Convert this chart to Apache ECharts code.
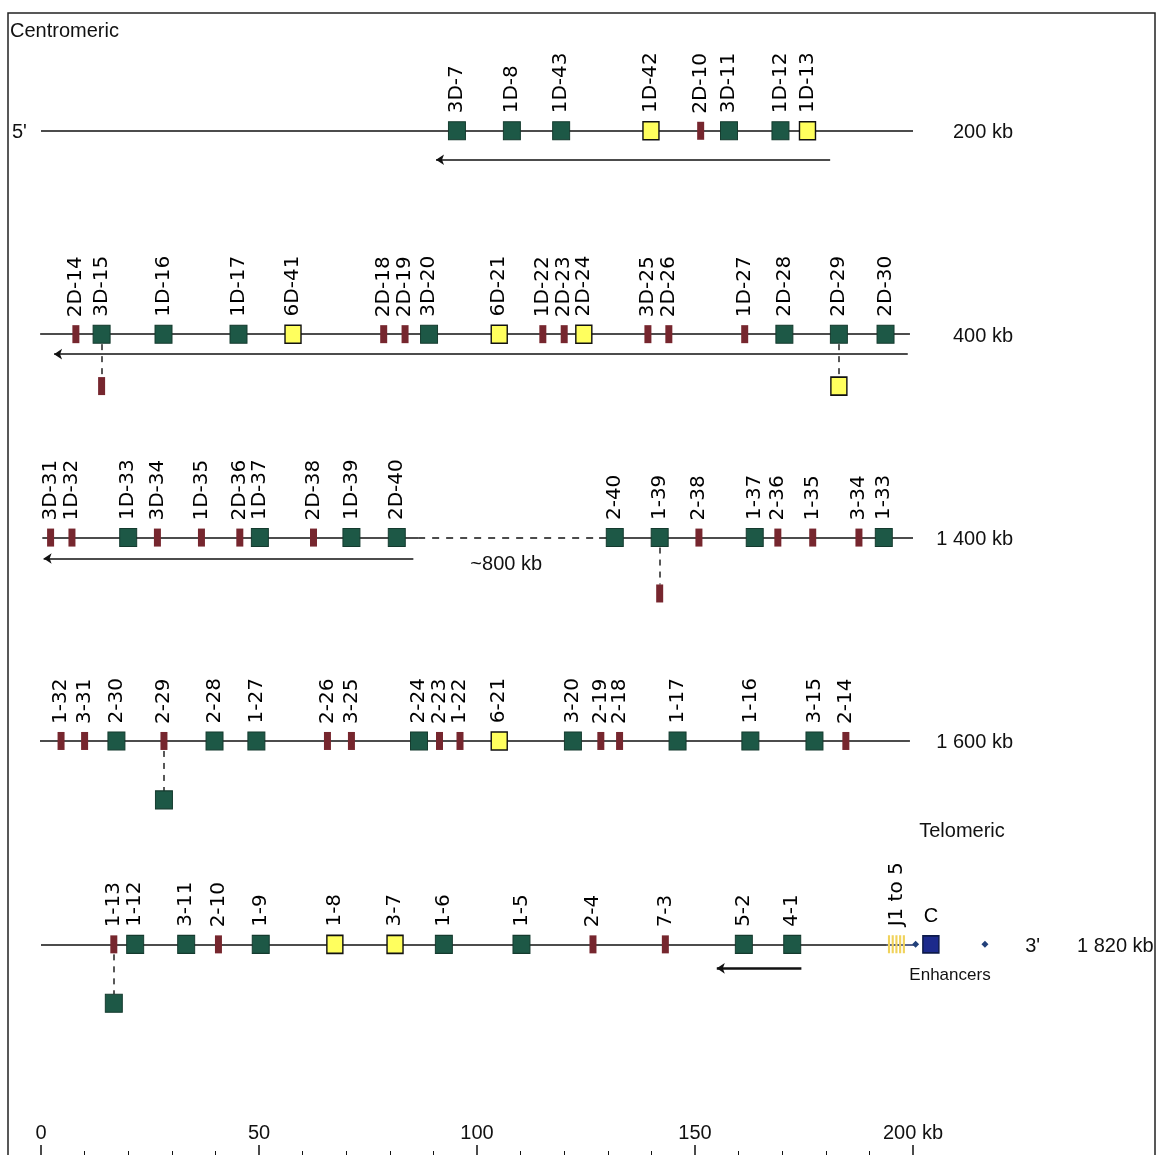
<!DOCTYPE html>
<html><head><meta charset="utf-8">
<script src="https://cdn.jsdelivr.net/npm/echarts@6/dist/echarts.min.js"></script>
<style>html,body{margin:0;padding:0;background:#fff}#c{width:1157px;height:1155px}</style>
</head><body><div id="c"></div>
<script>
// ================= DATA =================
const rowEndLabels = ['200 kb', '400 kb', '1 400 kb', '1 600 kb', '1 820 kb'];
const axisTickValues = [0, 50, 100, 150, 200];

const row0Genes = ['3D-7','1D-8','1D-43','1D-42','2D-10','3D-11','1D-12','1D-13'];
const row0Kb    = [95.4, 108.0, 119.3, 139.9, 151.3, 157.8, 169.6, 175.8];
const row0Kind  = ['G','G','G','Y','R','G','G','Y'];

const row1Genes = ['2D-14','3D-15','1D-16','1D-17','6D-41','2D-18','2D-19','3D-20','6D-21','1D-22','2D-23','2D-24','3D-25','2D-26','1D-27','2D-28','2D-29','2D-30'];
const row1Kb    = [8.0, 13.9, 28.1, 45.3, 57.8, 78.6, 83.5, 89.0, 105.1, 115.1, 120.0, 124.5, 139.2, 144.0, 161.4, 170.5, 183.0, 193.7];
const row1Kind  = ['R','G','G','G','Y','R','R','G','Y','R','R','Y','R','R','R','G','G','G'];

const row2Genes = ['3D-31','1D-32','1D-33','3D-34','1D-35','2D-36','1D-37','2D-38','1D-39','2D-40','2-40','1-39','2-38','1-37','2-36','1-35','3-34','1-33'];
const row2Kb    = [2.2, 7.1, 20.0, 26.7, 36.8, 45.6, 50.2, 62.5, 71.2, 81.6, 131.6, 141.9, 150.9, 163.7, 169.0, 177.0, 187.6, 193.3];
const row2Kind  = ['R','R','G','R','R','R','G','R','G','G','G','G','R','G','R','R','R','G'];

const row3Genes = ['1-32','3-31','2-30','2-29','2-28','1-27','2-26','3-25','2-24','2-23','1-22','6-21','3-20','2-19','2-18','1-17','1-16','3-15','2-14'];
const row3Kb    = [4.6, 10.0, 17.3, 28.2, 39.8, 49.4, 65.7, 71.2, 86.7, 91.4, 96.1, 105.1, 122.0, 128.4, 132.7, 146.0, 162.7, 177.4, 184.6];
const row3Kind  = ['R','R','G','R','G','G','R','R','G','R','R','Y','G','R','R','G','G','G','R'];

const row4Genes = ['1-13','1-12','3-11','2-10','1-9','1-8','3-7','1-6','1-5','2-4','7-3','5-2','4-1'];
const row4Kb    = [16.7, 21.6, 33.3, 40.7, 50.4, 67.4, 81.2, 92.4, 110.2, 126.6, 143.2, 161.2, 172.3];
const row4Kind  = ['R','G','G','R','G','Y','Y','G','G','R','R','G','G'];

// duplicated (off-line) genes, hanging below their partner
const dupRow  = [1, 1, 2, 3, 4];
const dupKb   = [13.9, 183.0, 141.9, 28.2, 16.7];
const dupKind = ['R', 'Y', 'R', 'G', 'G'];

// J/C region (row 4)
const jLabel = 'J1 to 5';
const jKb = 196.2;
const cLabel = 'C';
const cKb = 204.1;
const enhancerKb = [200.6, 216.5];

// backbone segments
const solidSegRow  = [0, 1, 2, 2, 3, 4];
const solidSegFrom = [0, -0.2, 0.3, 128.0, -0.5, 0];
const solidSegTo   = [200, 199.3, 86.5, 200, 199.3, 194.0];
const dashedSegRow  = [2];
const dashedSegFrom = [86.5];
const dashedSegTo   = [128.0];
const blueSegRow  = [4];
const blueSegFrom = [194.0];
const blueSegTo   = [222.3];

// orientation arrows (drawn from -> to, head at "to")
const arrowRow    = [0, 1, 2, 4];
const arrowFromKb = [181.0, 198.8, 85.4, 174.4];
const arrowToKb   = [90.6, 3.0, 0.6, 155.0];

// ================= LAYOUT =================
const ROW_PX = 203.75, ROW0_PX = 131, AXIS_PX = 1157;
const P = 1 / ROW_PX;                       // one pixel in row units
const DUP_DROP_PX = {1: 52, 2: 56, 3: 59, 4: 59};
const ARROW_OFF_PX = {0: 29, 1: 20, 2: 21, 4: 24};
const FONT = 'Liberation Sans';

const rows = [
  {genes: row0Genes, kb: row0Kb, kind: row0Kind},
  {genes: row1Genes, kb: row1Kb, kind: row1Kind},
  {genes: row2Genes, kb: row2Kb, kind: row2Kind},
  {genes: row3Genes, kb: row3Kb, kind: row3Kind},
  {genes: row4Genes, kb: row4Kb, kind: row4Kind}
];

const KIND_STYLE = {
  G: {size: [17, 18], itemStyle: {color: '#1d5846', borderColor: '#143a2e', borderWidth: 1, opacity: 1}},
  Y: {size: [16, 18], itemStyle: {color: '#ffff5e', borderColor: '#111', borderWidth: 1.5, opacity: 1}},
  R: {size: [7, 18],  itemStyle: {color: '#76262e', opacity: 1}}
};

const geneLabel = {
  show: true, formatter: '{b}', position: 'top', distance: 8, rotate: 90,
  align: 'left', verticalAlign: 'middle',
  fontFamily: 'DejaVu Sans', fontSize: 20, color: '#000', opacity: 1
};

function geneSeries(kind) {
  const data = [];
  rows.forEach((row, r) => row.genes.forEach((g, i) => {
    if (row.kind[i] === kind) data.push({name: g, value: [row.kb[i], r]});
  }));
  const s = KIND_STYLE[kind];
  return {type: 'scatter', data, symbol: 'rect', symbolSize: s.size,
    itemStyle: s.itemStyle, label: geneLabel, z: 5, clip: false, silent: true};
}
function dupSeries(kind) {
  const data = [];
  dupRow.forEach((r, i) => {
    if (dupKind[i] === kind) data.push({value: [dupKb[i], r + DUP_DROP_PX[r] * P]});
  });
  const s = KIND_STYLE[kind];
  return {type: 'scatter', data, symbol: 'rect', symbolSize: s.size,
    itemStyle: s.itemStyle, z: 5, clip: false, silent: true};
}
function segs(rowArr, fromArr, toArr) {
  return rowArr.map((r, i) => ({coords: [[fromArr[i], r], [toArr[i], r]]}));
}

const connectorData = dupRow.map((r, i) => ({
  coords: [[dupKb[i], r + 10 * P], [dupKb[i], r + (DUP_DROP_PX[r] - 9) * P]]
}));

const arrowData = arrowRow.map((r, i) => ({
  coords: [[arrowFromKb[i], r + ARROW_OFF_PX[r] * P], [arrowToKb[i], r + ARROW_OFF_PX[r] * P]],
  lineStyle: {width: r === 4 ? 2.5 : 1.5}
}));

const chart = echarts.init(document.getElementById('c'), null, {renderer: 'canvas'});

const option = {
  animation: false,
  backgroundColor: '#fff',
  grid: {left: 41, right: 1157 - 913, top: 0, bottom: 1155 - AXIS_PX},
  xAxis: {
    type: 'value', min: 0, max: 200, interval: 50,
    axisLine: {show: false, onZero: false, lineStyle: {color: '#111', width: 1.5}},
    axisTick: {show: true, inside: true, length: 10, lineStyle: {color: '#111', width: 1.5}},
    minorTick: {show: true, splitNumber: 5, length: 4, lineStyle: {color: '#111', width: 1}},
    splitLine: {show: false},
    axisLabel: {inside: true, margin: 12, fontFamily: FONT, fontSize: 20, color: '#111',
      formatter: v => axisTickValues.indexOf(v) === axisTickValues.length - 1 ? v + ' kb' : String(v)}
  },
  yAxis: {
    type: 'value', inverse: true, show: false,
    min: -ROW0_PX / ROW_PX, max: (AXIS_PX - ROW0_PX) / ROW_PX,
    splitLine: {show: false}
  },
  series: [
    {type: 'lines', coordinateSystem: 'cartesian2d', z: 1, silent: true,
      lineStyle: {color: '#111', width: 1.5, opacity: 1},
      data: segs(solidSegRow, solidSegFrom, solidSegTo)},
    {type: 'lines', coordinateSystem: 'cartesian2d', z: 1, silent: true,
      lineStyle: {color: '#111', width: 1.5, type: [7, 7], opacity: 1},
      data: segs(dashedSegRow, dashedSegFrom, dashedSegTo)},
    {type: 'lines', coordinateSystem: 'cartesian2d', z: 1, silent: true,
      lineStyle: {color: '#1f2f66', width: 1.5, opacity: 1},
      data: segs(blueSegRow, blueSegFrom, blueSegTo)},
    {type: 'lines', coordinateSystem: 'cartesian2d', z: 1, silent: true,
      symbol: ['none', 'arrow'], symbolSize: 8,
      lineStyle: {color: '#111', width: 1.5, opacity: 1},
      data: arrowData},
    {type: 'lines', coordinateSystem: 'cartesian2d', z: 1, silent: true,
      lineStyle: {color: '#222', width: 1.5, type: [6, 6], opacity: 1},
      data: connectorData},
    geneSeries('G'), geneSeries('Y'), geneSeries('R'),
    dupSeries('G'), dupSeries('Y'), dupSeries('R'),
    {type: 'scatter', clip: false, z: 5, silent: true,
      data: [{name: jLabel, value: [jKb, 4]}],
      symbol: 'path://M0,0h2v18h-2z M3.5,0h2v18h-2z M7,0h2v18h-2z M10.5,0h2v18h-2z M14,0h2v18h-2z',
      symbolKeepAspect: false, symbolSize: [17, 18],
      itemStyle: {color: '#f0d25a', opacity: 1},
      label: Object.assign({}, geneLabel, {distance: 9})},
    {type: 'scatter', clip: false, z: 6, silent: true,
      data: enhancerKb.map(k => ({value: [k, 4]})),
      symbol: 'diamond', symbolSize: 7, itemStyle: {color: '#22407a', opacity: 1}},
    {type: 'scatter', clip: false, z: 6, silent: true,
      data: [{name: cLabel, value: [cKb, 4]}],
      symbol: 'rect', symbolSize: [16, 17],
      itemStyle: {color: '#1c2a8c', borderColor: '#0d1a4a', borderWidth: 1.5, opacity: 1},
      label: {show: true, formatter: '{b}', position: 'top', distance: 9,
        fontFamily: FONT, fontSize: 20, color: '#000'}}
  ]
};
chart.setOption(option);

// annotations positioned through the chart's own scales
function px(kb, r) { return chart.convertToPixel({gridIndex: 0}, [kb, r]); }
const txt = (x, y, text, extra) => ({
  type: 'text', x, y, silent: true,
  style: Object.assign({text, fill: '#111', font: '20px "' + FONT + '"', textVerticalAlign: 'middle'}, extra || {})
});
const graphics = [
  {type: 'rect', silent: true, shape: {x: 8, y: 13, width: 1147, height: 1170},
    style: {fill: 'none', stroke: '#222', lineWidth: 1.5}},
  txt(10, 31, 'Centromeric'),
  txt(12, px(0, 0)[1] + 2, "5'"),
  txt(px(222.3, 4)[0] + 15, px(0, 4)[1] + 2, "3'"),
  txt(962, px(0, 4)[1] - 113, 'Telomeric', {textAlign: 'center'}),
  txt(950, px(0, 4)[1] + 31, 'Enhancers', {textAlign: 'center', font: '17px "' + FONT + '"'}),
  txt(px(106.7, 2)[0], px(0, 2)[1] + 27, '~800 kb', {textAlign: 'center'})
];
rowEndLabels.forEach((t, r) => {
  const y = px(0, r)[1] + 2;
  if (r < 4) graphics.push(txt(1013, y, t, {textAlign: 'right'}));
  else graphics.push(txt(1077, y, t, {textAlign: 'left'}));
});
chart.setOption({graphic: graphics});
</script>
</body></html>
